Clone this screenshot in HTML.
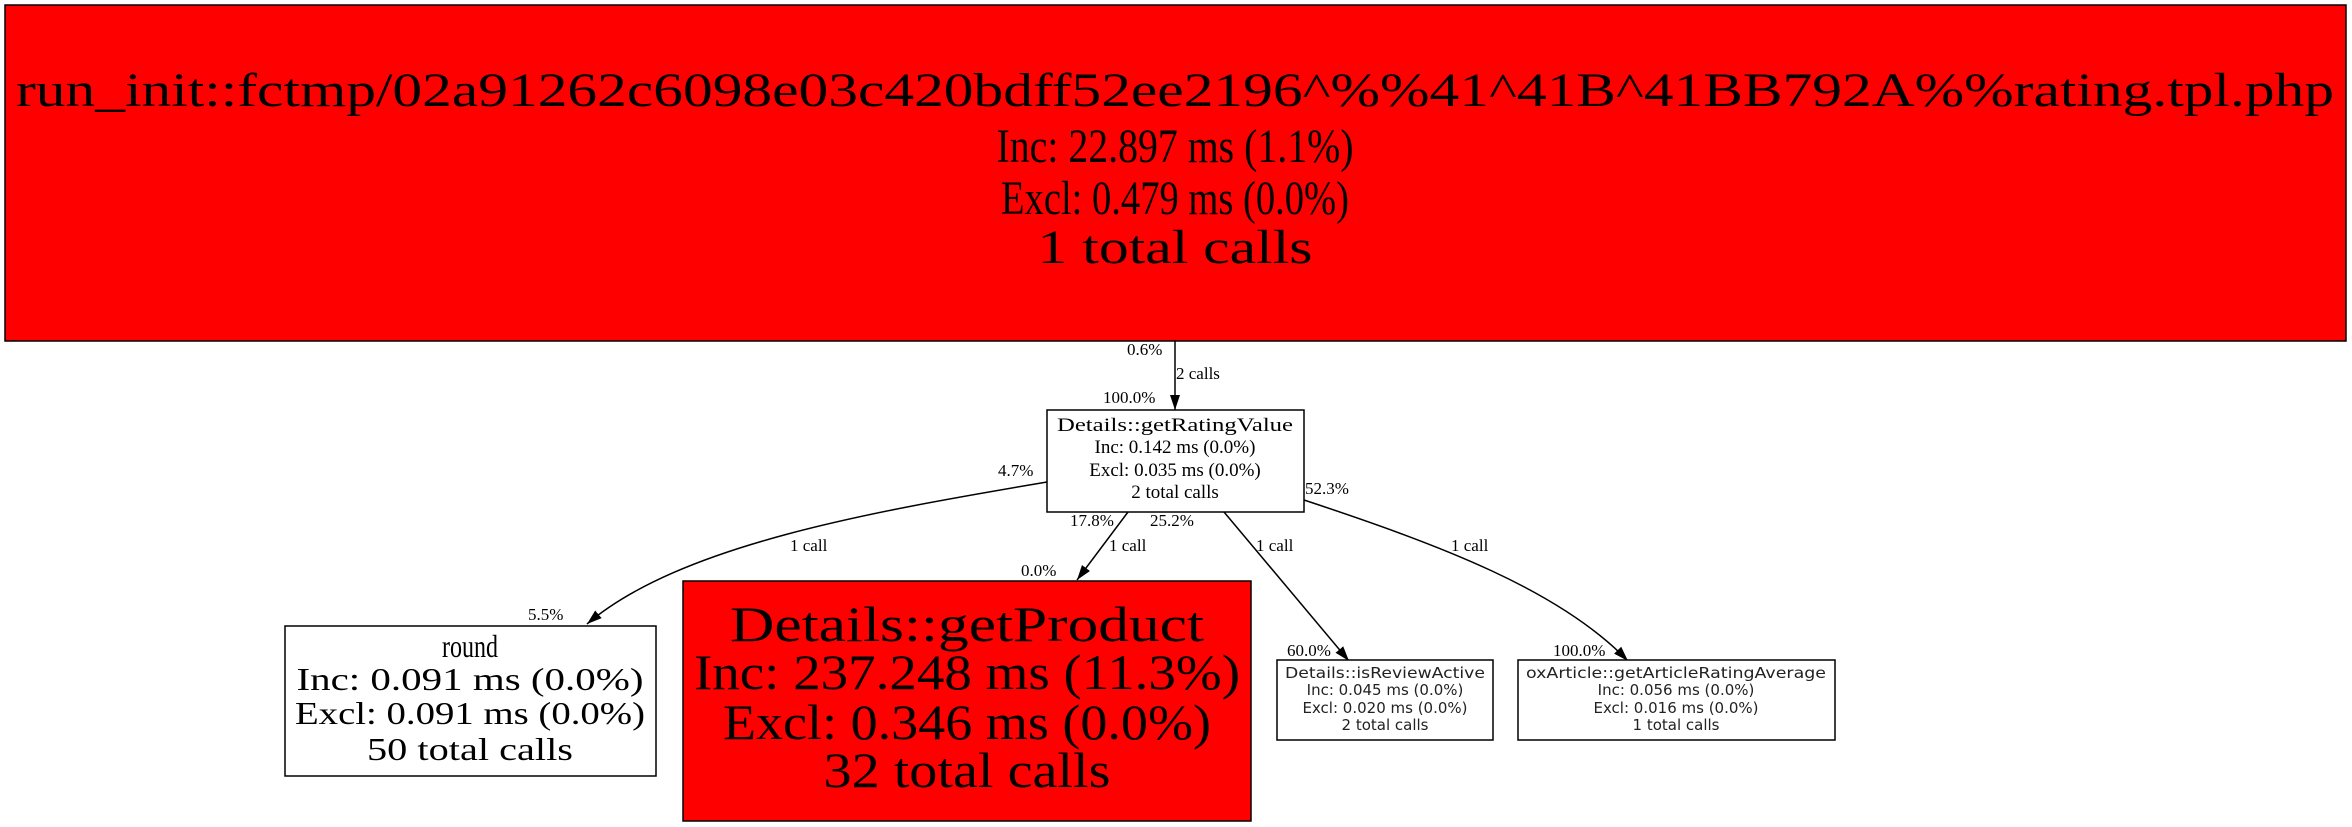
<!DOCTYPE html>
<html><head><meta charset="utf-8"><style>html,body{margin:0;padding:0;background:#fff}svg{display:block}</style></head>
<body>
<svg width="2352" height="827" viewBox="0 0 2352 827" xmlns="http://www.w3.org/2000/svg" font-family="'Liberation Serif', serif">
<rect x="0" y="0" width="2352" height="827" fill="#fff"/>
<defs><marker id="a" markerWidth="16" markerHeight="12" refX="15" refY="6" orient="auto" markerUnits="userSpaceOnUse"><path d="M0,1 L15,6 L0,11 z" fill="#000"/></marker></defs>
<!-- top node -->
<rect x="5" y="5" width="2341" height="336" fill="#ff0000" stroke="#000" stroke-width="1.5"/>
<g font-size="48" text-anchor="middle" fill="#000" lengthAdjust="spacingAndGlyphs">
<text x="1175" y="106" textLength="2318" lengthAdjust="spacingAndGlyphs">run_init::fctmp/02a91262c6098e03c420bdff52ee2196^%%41^41B^41BB792A%%rating.tpl.php</text>
<text x="1175" y="162" textLength="357" lengthAdjust="spacingAndGlyphs">Inc: 22.897 ms (1.1%)</text>
<text x="1175" y="214" textLength="348" lengthAdjust="spacingAndGlyphs">Excl: 0.479 ms (0.0%)</text>
<text x="1175" y="263" textLength="275" lengthAdjust="spacingAndGlyphs">1 total calls</text>
</g>
<!-- edges -->
<g fill="none" stroke="#000" stroke-width="1.5">
<path d="M1175,341 L1175,410" marker-end="url(#a)"/>
<path d="M1047,482 C870,512 680,545 587,624" marker-end="url(#a)"/>
<path d="M1128,512 L1077,580" marker-end="url(#a)"/>
<path d="M1224,512 L1349,661" marker-end="url(#a)"/>
<path d="M1304,500 C1440,545 1560,590 1628,661" marker-end="url(#a)"/>
</g>
<g font-size="17" fill="#000">
<text x="1127" y="355">0.6%</text>
<text x="1176" y="379">2 calls</text>
<text x="1103" y="403">100.0%</text>
<text x="998" y="476">4.7%</text>
<text x="790" y="551">1 call</text>
<text x="528" y="620">5.5%</text>
<text x="1070" y="526">17.8%</text>
<text x="1109" y="551">1 call</text>
<text x="1021" y="576">0.0%</text>
<text x="1150" y="526">25.2%</text>
<text x="1256" y="551">1 call</text>
<text x="1287" y="656">60.0%</text>
<text x="1305" y="494">52.3%</text>
<text x="1451" y="551">1 call</text>
<text x="1553" y="656">100.0%</text>
</g>
<!-- getRatingValue -->
<rect x="1047" y="410" width="257" height="102" fill="#fff" stroke="#000" stroke-width="1.5"/>
<g font-size="19" text-anchor="middle">
<text x="1175" y="431" textLength="236" lengthAdjust="spacingAndGlyphs">Details::getRatingValue</text>
<text x="1175" y="453">Inc: 0.142 ms (0.0%)</text>
<text x="1175" y="476">Excl: 0.035 ms (0.0%)</text>
<text x="1175" y="498">2 total calls</text>
</g>
<!-- round -->
<rect x="285" y="626" width="371" height="150" fill="#fff" stroke="#000" stroke-width="1.5"/>
<g font-size="32" text-anchor="middle">
<text x="470" y="657" textLength="56" lengthAdjust="spacingAndGlyphs">round</text>
<text x="470" y="690" textLength="347" lengthAdjust="spacingAndGlyphs">Inc: 0.091 ms (0.0%)</text>
<text x="470" y="724" textLength="350" lengthAdjust="spacingAndGlyphs">Excl: 0.091 ms (0.0%)</text>
<text x="470" y="760" textLength="206" lengthAdjust="spacingAndGlyphs">50 total calls</text>
</g>
<!-- getProduct -->
<rect x="683" y="581" width="568" height="240" fill="#ff0000" stroke="#000" stroke-width="1.5"/>
<g font-size="50" text-anchor="middle">
<text x="967" y="641" textLength="474" lengthAdjust="spacingAndGlyphs">Details::getProduct</text>
<text x="967" y="689" textLength="546" lengthAdjust="spacingAndGlyphs">Inc: 237.248 ms (11.3%)</text>
<text x="967" y="739" textLength="488" lengthAdjust="spacingAndGlyphs">Excl: 0.346 ms (0.0%)</text>
<text x="967" y="787" textLength="287" lengthAdjust="spacingAndGlyphs">32 total calls</text>
</g>
<!-- isReviewActive -->
<rect x="1277" y="660" width="216" height="80" fill="#fff" stroke="#000" stroke-width="1.5"/>
<g font-size="15" text-anchor="middle" fill="#222" font-family="'DejaVu Sans','Liberation Sans',sans-serif">
<text x="1385" y="678" textLength="200" lengthAdjust="spacingAndGlyphs">Details::isReviewActive</text>
<text x="1385" y="695">Inc: 0.045 ms (0.0%)</text>
<text x="1385" y="713">Excl: 0.020 ms (0.0%)</text>
<text x="1385" y="730">2 total calls</text>
</g>
<!-- getArticleRatingAverage -->
<rect x="1518" y="660" width="317" height="80" fill="#fff" stroke="#000" stroke-width="1.5"/>
<g font-size="15" text-anchor="middle" fill="#222" font-family="'DejaVu Sans','Liberation Sans',sans-serif">
<text x="1676" y="678" textLength="300" lengthAdjust="spacingAndGlyphs">oxArticle::getArticleRatingAverage</text>
<text x="1676" y="695">Inc: 0.056 ms (0.0%)</text>
<text x="1676" y="713">Excl: 0.016 ms (0.0%)</text>
<text x="1676" y="730">1 total calls</text>
</g>
</svg>
</body></html>
